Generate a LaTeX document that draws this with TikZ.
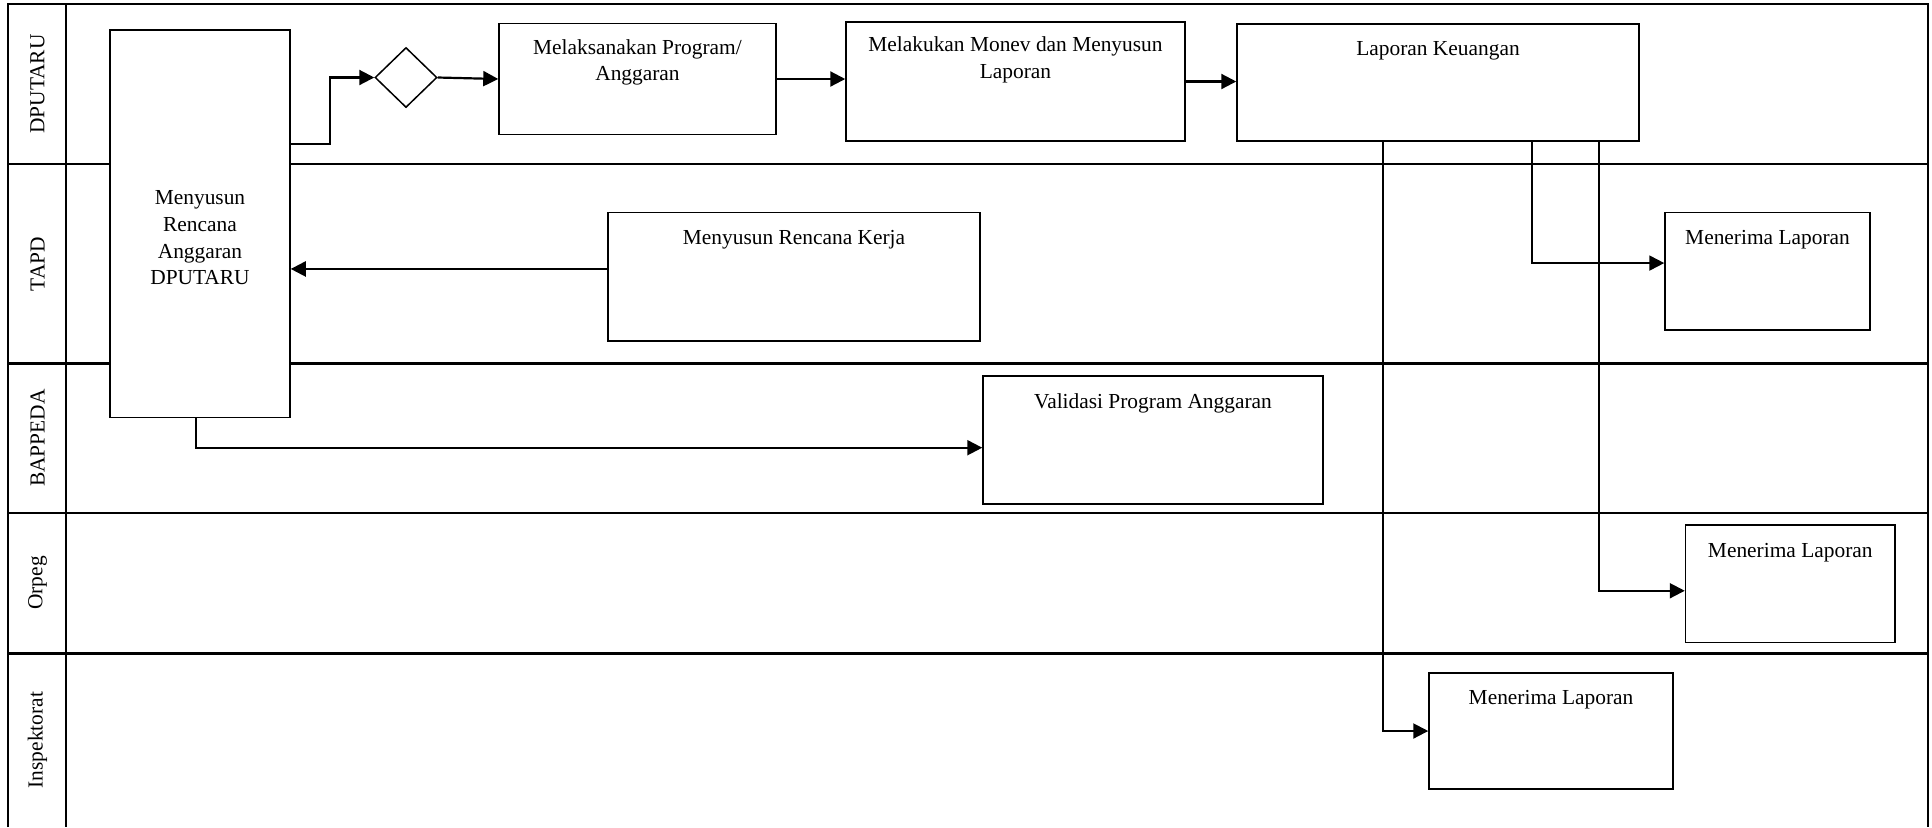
\documentclass[tikz,border=0pt]{standalone}
\usepackage{fontspec}
\setmainfont{Liberation Serif}
\usepackage{tikz}
\usepackage{xcolor}
\usetikzlibrary{arrows.meta,positioning,shapes,calc}
\definecolor{ink}{HTML}{000000}
\tikzset{
  lanerule/.style={draw=ink,line width=1.35pt},
  procbox/.style={draw=ink,fill=white,line width=0.75pt,inner sep=0pt},
  gate/.style={diamond,draw=ink,fill=white,line width=0.75pt,inner sep=0pt,
               minimum width=31pt,minimum height=30pt},
  boxtext/.style={font=\fontsize{10.7}{13.4}\selectfont,align=center,
                  inner sep=0pt,text=ink},
  toptext/.style={boxtext,anchor=north,yshift=#1},
  toptext/.default=-9pt,
  lanetext/.style={boxtext,rotate=90},
  flowarr/.style={-{Triangle[length=7.5pt,width=7.5pt]},line width=1.1pt,draw=ink},
  feedline/.style={flowarr,line width=1pt}
}

\begin{document}
\begin{tikzpicture}[x=0.5pt,y=-0.5pt]
  \useasboundingbox (0,0) rectangle (1932,827);
  % swimlanes
  \draw[lanerule] (8,827) -- (8,4) -- (1928,4) -- (1928,827);
  \draw[lanerule] (66,4) -- (66,827);
  \foreach \yy in {164,363.5,513,653.5}
    \draw[lanerule] (8,\yy) -- (1928,\yy);
  \node[lanetext] (lnDputaru) at (37.5,84) {DPUTARU};
  \node[lanetext] (lnTapd) at (37.5,264) {TAPD};
  \node[lanetext] (lnBappeda) at (37.5,438) {BAPPEDA};
  \node[lanetext] (lnOrpeg) at (37.5,583) {Orpeg};
  \node[lanetext] (lnInsp) at (37.5,740) {Inspektorat};

  % steps
  \node[procbox,minimum width=90pt,minimum height=193.75pt,
        label={[boxtext,anchor=center,yshift=-7pt]center:Menyusun\\Rencana\\Anggaran\\DPUTARU}]
        (plan) at (200,223.75) {};
  \node[gate] (gate) at (406,77.5) {};
  \node[procbox,minimum width=138.5pt,minimum height=55.5pt,
        label={[toptext=-8pt]north:Melaksanakan Program/\\Anggaran}] (laksana) at (637.5,79) {};
  \node[procbox,minimum width=169.5pt,minimum height=59.5pt,
        label={[toptext=-7.5pt]north:Melakukan Monev dan Menyusun\\Laporan}] (monev) at (1015.5,81.5) {};
  \node[procbox,minimum width=201pt,minimum height=58.5pt,
        label={[toptext]north:Laporan Keuangan}] (lapkeu) at (1438,82.5) {};
  \node[procbox,minimum width=186pt,minimum height=64.25pt,
        label={[toptext]north:Menyusun Rencana Kerja}] (renja) at (794,276.75) {};
  \node[procbox,minimum width=102.5pt,minimum height=58.75pt,
        label={[toptext]north:Menerima Laporan}] (trmTapd) at (1767.5,271.25) {};
  \node[procbox,minimum width=170pt,minimum height=64pt,
        label={[toptext]north:Validasi Program Anggaran}] (validasi) at (1153,440) {};
  \node[procbox,minimum width=104.75pt,minimum height=58.75pt,
        label={[toptext=-9.5pt]north:Menerima Laporan}] (trmOrpeg) at (1790.25,583.75) {};
  \node[procbox,minimum width=122pt,minimum height=58pt,
        label={[toptext]north:Menerima Laporan}] (trmInsp) at (1551,731) {};

  % flow
  \coordinate (bend) at (330,144);
  \coordinate (rkOut) at ([yshift=3.9pt]renja.west);
  \draw[flowarr] (plan.east |- bend) -- (bend) |- (gate.west);
  \draw[flowarr] (gate.east) -- (laksana.west);
  \draw[flowarr] (laksana.east) -- (laksana.east -| monev.west);
  \draw[flowarr] (monev.east) -- (monev.east -| lapkeu.west);
  \draw[flowarr] (rkOut) -- (rkOut -| plan.east);
  \draw[flowarr] ([xshift=-2pt]plan.south) |- ([yshift=-3.85pt]validasi.west);
  \draw[feedline] ([xshift=46.75pt]lapkeu.south) |- ([yshift=4.1pt]trmTapd.west);
  \draw[feedline] ([xshift=80.65pt]lapkeu.south) |- ([yshift=-3.5pt]trmOrpeg.west);
  \draw[feedline] ([xshift=-27.65pt]lapkeu.south) |- (trmInsp.west);
\end{tikzpicture}
\end{document}
